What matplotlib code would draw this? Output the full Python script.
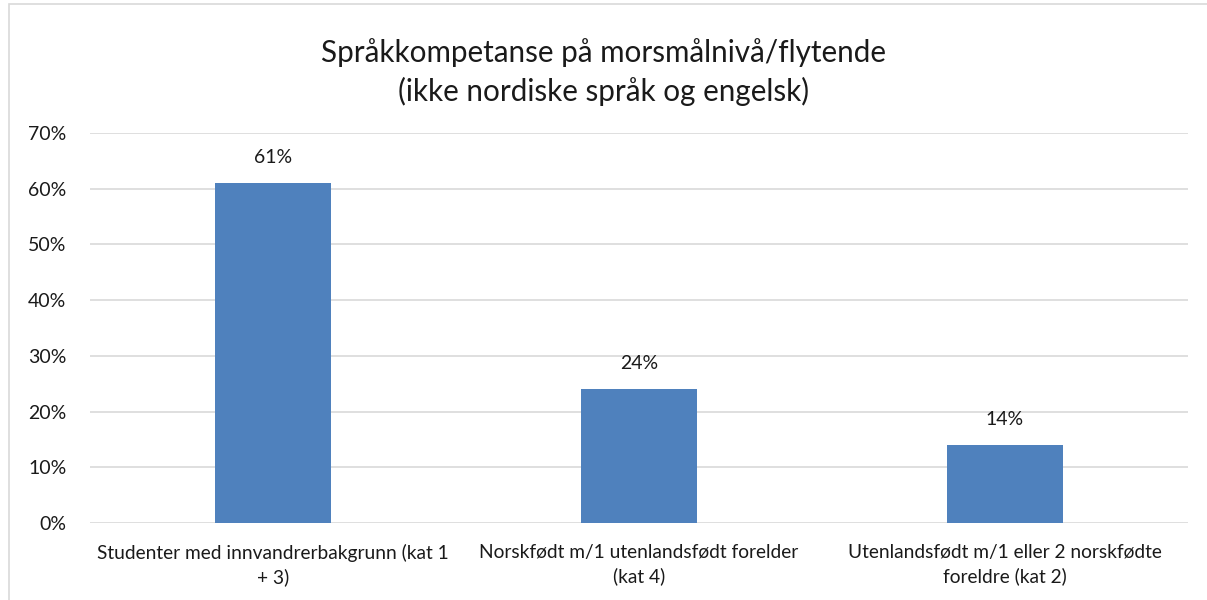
import matplotlib.pyplot as plt
from matplotlib.patches import Rectangle

categories = ["Studenter med innvandrerbakgrunn (kat 1\n+ 3)",
              "Norskfødt m/1 utenlandsfødt forelder\n(kat 4)",
              "Utenlandsfødt m/1 eller 2 norskfødte\nforeldre (kat 2)"]
values = [61, 24, 14]
yticks = [0, 10, 20, 30, 40, 50, 60, 70]

plt.rcParams['font.family'] = ['Lato', 'DejaVu Sans']

fig = plt.figure(figsize=(12.07, 6), dpi=100)
ax = fig.add_axes([90/1207, 1 - 523/600, 1098/1207, 390/600])

x = range(len(categories))
bars = ax.bar(x, values, width=0.317, color='#4f81bd', zorder=3)
for b, v in zip(bars, values):
    ax.text(b.get_x() + b.get_width()/2, v + 4.6, f"{v}%", ha='center', va='center',
            fontsize=14, color='#1a1a1a')

ax.set_xlim(-0.5, len(categories) - 0.5)
ax.set_ylim(0, 70)
ax.set_yticks(yticks)
ax.set_yticklabels([f"{t}%" for t in yticks], fontsize=14, color='#1a1a1a')
ax.set_xticks(list(x))
ax.set_xticklabels(categories, fontsize=13.8, color='#1a1a1a', linespacing=1.4)
ax.tick_params(length=0)
ax.tick_params(axis='y', pad=17)
ax.tick_params(axis='x', pad=15)
ax.grid(axis='y', color='#d9d9d9', linewidth=1.2, zorder=0)
for s in ax.spines.values():
    s.set_visible(False)

fig.text(0.5, 1 - 72/600, "Språkkompetanse på morsmålnivå/flytende\n(ikke nordiske språk og engelsk)",
         ha='center', va='center', fontsize=21.3, color='#1a1a1a', linespacing=1.45)

fig.patches.append(Rectangle((9/1207, -0.02), 1.1, 1 - 4/600 + 0.02, transform=fig.transFigure,
                             fill=False, edgecolor='#d9d9d9', linewidth=1.2))

fig.savefig("out.png", dpi=100)
